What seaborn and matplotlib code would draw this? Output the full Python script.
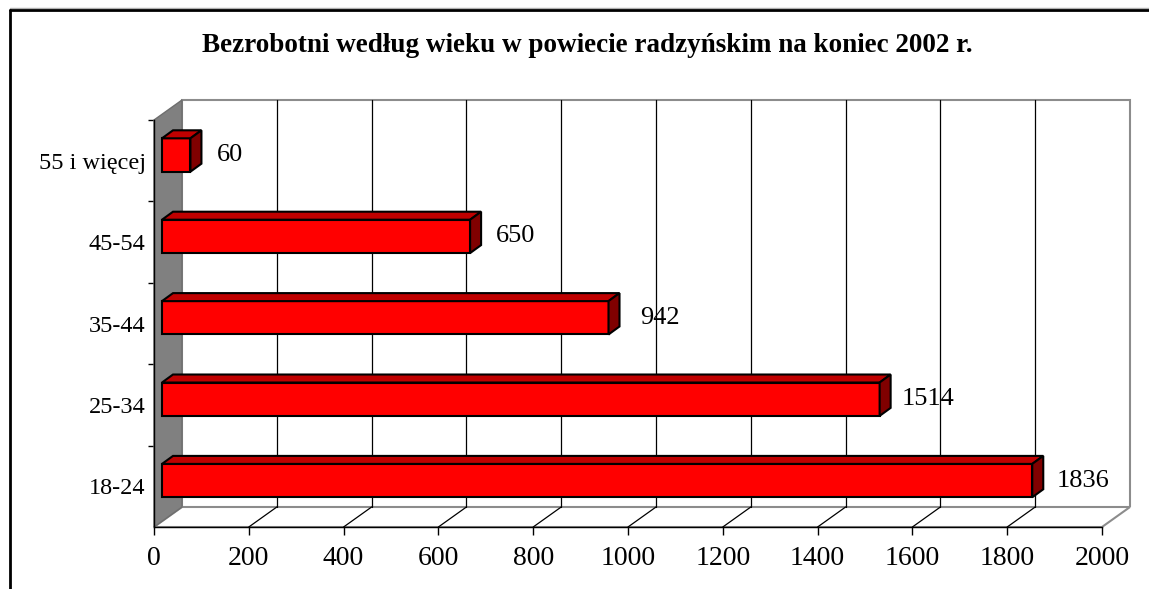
import numpy as np
import matplotlib
matplotlib.use("Agg")
import matplotlib.pyplot as plt
import seaborn as sns
from matplotlib.patches import Polygon
from matplotlib.lines import Line2D

# data
categories = ["55 i więcej", "45-54", "35-44", "25-34", "18-24"]
values = [60, 650, 942, 1514, 1836]
x_ticks = [0, 200, 400, 600, 800, 1000, 1200, 1400, 1600, 1800, 2000]
title = "Bezrobotni według wieku w powiecie radzyńskim na koniec 2002 r."

sns.set_style("white")
plt.rcParams["font.family"] = ["Liberation Serif", "DejaVu Serif"]
plt.rcParams["text.color"] = "black"
plt.rcParams["xtick.color"] = "black"
plt.rcParams["ytick.color"] = "black"

W, H = 1149, 589
fig = plt.figure(figsize=(W / 100, H / 100), dpi=100)

# front plane of the 3D box, in pixels
L, R, T, B = 154, 1102, 120, 527
ax = fig.add_axes([L / W, 1 - B / H, (R - L) / W, (B - T) / H])
ax.patch.set_visible(False)

sns.barplot(x=values, y=categories, orient="h", color="#FF0000", saturation=1,
            width=0.41, edgecolor="black", linewidth=1.5, ax=ax, zorder=3)
bars = list(ax.patches)

ax.set_xlim(0, 2000)
ax.set_ylim(4.5, -0.5)

# pixel -> data units
sx = 2000 / (R - L)
sy = 5 / (B - T)

DX, DY = 28, 20        # depth of the box
FX, FY = 8, 5.7        # bar front offset
BX, BY = 11, 8         # bar depth

dx, dy = DX * sx, DY * sy
xmax = ax.get_xlim()[1]
ybot, ytop = ax.get_ylim()

# back wall
ax.add_patch(Polygon([(dx, ybot - dy), (dx, ytop - dy), (xmax + dx, ytop - dy),
                      (xmax + dx, ybot - dy)], closed=False, facecolor="white",
                     edgecolor="#8c8c8c", linewidth=1.5, zorder=0.5, clip_on=False))
# floor
ax.add_patch(Polygon([(0, ybot), (xmax, ybot), (xmax + dx, ybot - dy), (dx, ybot - dy)],
                     facecolor="white", edgecolor="#8c8c8c", linewidth=1.5,
                     zorder=0.6, clip_on=False))
for xt in x_ticks[1:-1]:
    ax.add_line(Line2D([xt + dx, xt + dx], [ybot - dy, ytop - dy], color="black",
                       linewidth=0.9, zorder=0.7, clip_on=False))
    ax.add_line(Line2D([xt, xt + dx], [ybot, ybot - dy], color="black",
                       linewidth=0.9, zorder=0.7, clip_on=False))
# side wall
ax.add_patch(Polygon([(0, ybot), (0, ytop), (dx, ytop - dy), (dx, ybot - dy)],
                     facecolor="#808080", edgecolor="#6e6e6e", linewidth=1,
                     zorder=0.8, clip_on=False))

# 3D bars: shift front face, add top and side faces
label_gap = [26, 26, 32, 22, 24]
for p, v, g in zip(bars, values, label_gap):
    p.set_x(p.get_x() + FX * sx)
    p.set_y(p.get_y() - FY * sy)
    p.set_clip_on(False)
    x0, x1 = p.get_x(), p.get_x() + p.get_width()
    yt, yb = p.get_y(), p.get_y() + p.get_height()
    bx, by = BX * sx, BY * sy
    ax.add_patch(Polygon([(x0, yt), (x1, yt), (x1 + bx, yt - by), (x0 + bx, yt - by)],
                         facecolor="#C00000", edgecolor="black", linewidth=1.5,
                         zorder=3, clip_on=False))
    ax.add_patch(Polygon([(x1, yt), (x1 + bx, yt - by), (x1 + bx, yb - by), (x1, yb)],
                         facecolor="#800000", edgecolor="black", linewidth=1.5,
                         zorder=3, clip_on=False))
    ax.text(x1 + g * sx, (yt + yb) / 2, str(v), ha="left", va="center",
            fontsize=19, color="black", zorder=4)

for s in ["top", "right"]:
    ax.spines[s].set_visible(False)
for s in ["left", "bottom"]:
    ax.spines[s].set_color("black")
    ax.spines[s].set_linewidth(1)
    ax.spines[s].set_zorder(1)

ax.set_xticks(x_ticks)
ax.set_xticklabels([str(t) for t in x_ticks])
ax.set_yticks(np.arange(len(categories)) - 0.5, minor=True)
ax.tick_params(axis="x", bottom=True, direction="out", length=6, width=1,
               color="black", labelcolor="black", pad=8, labelsize=20)
ax.tick_params(axis="y", which="major", left=False, length=0, pad=6,
               labelcolor="black", labelsize=17.5)
ax.tick_params(axis="y", which="minor", left=True, direction="out", length=4,
               width=1, color="black")
ax.set_xlabel("")
ax.set_ylabel("")

fig.text(587 / W, 1 - 46 / H, title, ha="center", va="center",
         fontsize=19.5, fontweight="bold", color="black")

# outer frame
fig.add_artist(Line2D([10 / W, 1], [1 - 7.5 / H, 1 - 7.5 / H], color="#b0b0b0",
                      linewidth=1, transform=fig.transFigure))
fig.add_artist(Line2D([10 / W, 1], [1 - 10 / H, 1 - 10 / H], color="black",
                      linewidth=2, transform=fig.transFigure))
fig.add_artist(Line2D([10 / W, 10 / W], [0, 1 - 10 / H], color="black",
                      linewidth=2, transform=fig.transFigure))

fig.savefig("out.png", dpi=100)
